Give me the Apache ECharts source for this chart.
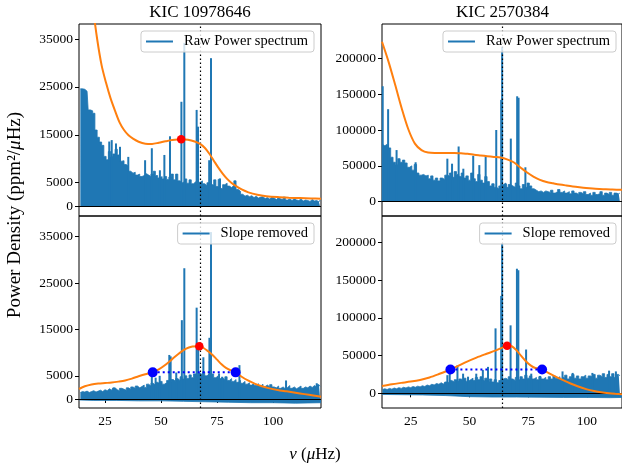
<!DOCTYPE html>
<html><head><meta charset="utf-8">
<script src="https://cdn.jsdelivr.net/npm/echarts@6/dist/echarts.min.js"></script>
<style>html,body{margin:0;padding:0;background:#fff}#c{width:622px;height:472px}</style>
</head><body><div id="c"></div>
<script>
// ---------------- DATA ----------------
const titles = ['KIC 10978646', 'KIC 2570384'];
const legendNames = ['Raw Power spectrum', 'Slope removed'];
const xTicks = [25, 50, 75, 100];
const yTicksL = [0, 5000, 15000, 25000, 35000];
const yTicksR = [0, 50000, 100000, 150000, 200000];
const numaxL = 67.4, numaxR = 63.8;

// frequency grid (muHz) of the spectrum envelopes
const freqL = [14,15,16,17,18,19,20,21,22,23,24,25,26,27,28,29,30,31,32,33,34,35,36,37,38,39,40,41,42,43,44,45,46,47,48,49,50,51,52,53,54,55,56,57,58,59,60,61,62,63,64,65,66,67,68,69,70,71,72,73,74,75,76,77,78,79,80,81,82,83,84,85,86,87,88,89,90,91,92,93,94,95,96,97,98,99,100,101,102,103,104,105,106,107,108,109,110,111,112,113,114,115,116,117,118,119,120,121];
const freqR = [13,14,15,16,17,18,19,20,21,22,23,24,25,26,27,28,29,30,31,32,33,34,35,36,37,38,39,40,41,42,43,44,45,46,47,48,49,50,51,52,53,54,55,56,57,58,59,60,61,62,63,64,65,66,67,68,69,70,71,72,73,74,75,76,77,78,79,80,81,82,83,84,85,86,87,88,89,90,91,92,93,94,95,96,97,98,99,100,101,102,103,104,105,106,107,108,109,110,111,112,113,114];

// KIC 10978646 raw spectrum envelope
const rawL = [24600,24600,24500,24100,20200,20000,19500,16000,14500,13500,
 12800,10500,9800,11500,10500,11000,12000,10800,9500,9600,
 8800,8400,7400,7000,7200,6600,6800,6300,6500,6900,
 6600,6300,6800,7400,6500,6000,6300,5800,6300,5700,
 6200,6800,5600,6800,5400,5000,5200,5800,4900,5600,
 4800,5200,5600,5100,5400,4800,4400,5000,5200,4600,
 5600,4200,5700,3800,4600,4900,4300,4000,4400,5400,
 3600,3200,2600,2200,2400,2100,2300,1900,2200,1800,
 2000,2100,1700,1900,1600,2000,1800,1500,1900,1600,
 1500,2000,1400,1600,1300,1700,1400,1300,1600,1200,
 1400,1300,1100,1500,1200,1300,1000,1400];
const rawPeaksL = [[26.9,13600],[28.0,13900],[29.9,13200],[31.7,12500],[35.4,10400],[42.9,9700],[45.9,12200],[49.5,7600],[51.5,10800],[54.0,14700],[59.1,21900],[60.4,34200],[65.9,20200],[66.5,16700],[71.5,9700],[72.3,31000],[76.3,5900]];
const fitRawL = [[13.4,72000],[15.5,60000],[17.5,50000],[19.5,42000],[21.5,35000],[23.5,29500],[25.5,25800],[27.5,22600],[29.5,20000],[31.5,17600],[33.5,16000],[35.5,14900],[37.5,14200],[40,13550],[43,13150],[46,13100],[49,13350],[52,13650],[55,13900],[59,14060],[62,13950],[65,13600],[67.4,13100],[69.5,12300],[71.5,11100],[73.5,9650],[75.5,8200],[77.5,6900],[79.5,5800],[81.5,4950],[83.5,4300],[86,3600],[89,3000],[93,2500],[97,2200],[102,2000],[107,1880],[112,1800],[117,1720],[121.4,1670]];
const peakRawL = [[59.0,14060]];

// KIC 10978646 slope removed
const slopeL = [1400,1600,1500,1700,1400,1600,1800,1500,1700,1900,
 1600,2000,1800,2200,1900,2400,2000,1800,2300,2100,
 1900,2400,2100,2600,2300,2800,2400,2700,3000,2500,
 3200,2800,3400,3000,3600,3300,3800,3200,3500,4000,
 3600,4200,3800,4400,4000,4800,4300,5000,4400,5200,
 4600,5400,5000,5600,5200,5800,5000,5400,4800,5400,
 4600,5000,4400,4600,4200,4800,4000,4400,3800,4200,
 3600,4000,3400,3800,3200,3500,3000,3400,2900,3300,
 2800,3200,2700,3000,2600,3100,2600,2400,2800,2300,
 2600,2200,2500,2900,2300,2600,2200,2500,2800,2300,
 2600,2400,2800,2500,2900,2600,3100,2700];
const slopePeaksL = [[45.9,5200],[47.6,4600],[49.4,5000],[53.7,9500],[54.3,9200],[56.8,5700],[59.3,17000],[60.4,28200],[65.9,19700],[66.6,11300],[68.9,9000],[71.6,13200],[72.3,36000],[75.9,5500],[77.3,4800],[85.0,7300],[105.8,4000],[119.5,3400]];
const slopeLowL = [[13.4,-200],[20,-300],[30,-300],[40,-400],[50,-400],[60,-500],[70,-600],[80,-700],[90,-800],[100,-800],[110,-900],[121.4,-800]];
const fitSlopeL = [[13.4,2160],[16,2750],[19,3150],[22,3350],[25,3450],[28,3550],[31,3750],[34,4000],[37,4400],[40,4900],[43,5350],[46.3,5750],[49,6400],[52,7400],[55,8600],[58,9800],[61,10800],[64,11300],[67.1,11400],[69,11000],[71,10300],[73,9500],[75,8500],[77,7500],[79,6700],[81,6200],[83.3,5750],[86,4800],[89,3950],[92,3250],[95,2750],[98,2350],[102,1950],[106,1650],[110,1350],[114,1050],[118,750],[121.4,500]];
const peakSlopeL = [[67.1,11400]];
const halfL = [[46.3,5750],[83.3,5750]];

// KIC 2570384 raw spectrum envelope
const rawR = [80000,78000,80000,75000,62000,55000,52000,60000,55000,58000,
 54000,48000,50000,44000,52000,40000,37000,38000,36000,37000,
 32000,36000,30000,33000,29000,33000,31000,37000,36000,40000,
 34000,42000,38000,35000,40000,33000,36000,30000,40000,32000,
 28000,38000,30000,26000,35000,28000,22000,25000,20000,18000,
 22000,24000,26000,20000,24000,22000,20000,26000,22000,18000,
 24000,20000,26000,22000,18000,16000,14000,15000,13000,15000,
 14000,13000,16000,12000,14000,17000,13000,15000,12000,14000,
 11000,15000,12000,10000,13000,11000,14000,10000,12000,9000,
 13000,10000,11000,14000,9000,12000,10000,13000,9000,12000,
 11000,12000];
const rawPeaksR = [[13.1,161000],[15.4,129000],[19.0,72000],[27.1,55000],[40.6,60000],[42.6,53000],[45.4,77000],[47.4,46000],[51.6,64000],[54.2,51000],[56.9,63000],[61.4,100000],[63.5,142000],[63.9,216000],[65.5,25000],[67.6,88000],[70.3,147000],[70.9,145000],[73.8,48000]];
const fitRawR = [[12.8,223000],[15.6,195000],[18.4,163000],[21.2,130000],[24.0,101000],[26.8,81000],[29.6,72000],[32.4,68500],[35.2,68000],[38.0,68000],[40.8,68000],[43.6,68000],[46.4,67500],[49.2,67000],[52.0,65500],[54.8,64500],[57.6,63500],[60.4,62500],[63.2,61500],[66.0,59000],[68.8,55000],[71.6,48000],[74.4,41000],[77.2,35000],[80.0,30500],[82.8,27500],[85.6,25700],[88.4,24000],[91.2,22600],[94.0,21300],[96.8,20200],[99.6,19200],[102.4,18400],[105.2,17800],[108.0,17300],[110.8,17000],[114.9,16600]];

// KIC 2570384 slope removed
const slopeR = [5000,6000,5000,6500,5500,7000,6000,7500,6500,8000,
 7000,8500,7500,9000,8000,9500,8500,10000,9000,11000,
 10000,12000,11000,13000,12000,14000,12000,15000,14000,17000,
 15000,18000,16000,19000,17000,20000,16000,18000,20000,17000,
 21000,18000,22000,17000,20000,16000,19000,15000,18000,14000,
 17000,19000,20000,18000,22000,19000,17000,21000,18000,22000,
 19000,24000,20000,23000,19000,21000,18000,22000,19000,21000,
 18000,22000,19000,23000,20000,22000,18000,21000,24000,19000,
 22000,25000,20000,23000,19000,22000,24000,20000,23000,21000,
 25000,20000,24000,22000,26000,21000,25000,22000,26000,21000,
 25000,23000];
const slopePeaksR = [[40.6,24000],[41.6,31000],[44.9,37000],[47.3,26000],[49.4,22000],[52.9,26000],[55.7,31000],[57.9,35000],[61.1,86000],[63.5,129000],[63.9,199000],[67.5,90000],[70.2,165000],[70.8,163000],[74.1,58000],[76.3,26000],[80.0,23000],[89.6,29000],[93.9,27000],[102.3,27000],[109.4,30000],[112.3,29000]];
const slopeLowR = [[12.8,-1500],[20,-1800],[30,-2200],[40,-3000],[50,-4500],[60,-5000],[70,-5000],[80,-5200],[90,-5500],[100,-5500],[110,-5800],[114.9,-5500]];
const fitSlopeR = [[12.8,9700],[17,12000],[21,13800],[25,15500],[29,17700],[33,21000],[37,25500],[41.9,31500],[45,36000],[49,42000],[53,47300],[57,52000],[61,56500],[64,60500],[66.0,63100],[68,62300],[70,57000],[72,49500],[74,42500],[76,37000],[78,33500],[80.9,31500],[83,28000],[86,23000],[89.6,17700],[93,13000],[96,9300],[100,5200],[103,3000],[106,1300],[109.4,0],[112,-700],[114.9,-1300]];
const peakSlopeR = [[66.0,63100]];
const halfR = [[41.9,31500],[80.9,31500]];

// ---------------- CHART ----------------
const FONT = 'Liberation Serif';
const BLUE = '#1f77b4', ORANGE = '#ff7f0e';
const pairs = (xs, ys) => xs.map((x, i) => [x, ys[i]]);

const panels = [
  {grid:{left:79, top:24, width:242, height:192}, x:[13.4,121.4], y:[-1940,38130], yt:yTicksL, bottom:false, numax:numaxL,
   env:pairs(freqL, rawL), peaks:rawPeaksL, low:null, fit:fitRawL, red:peakRawL, half:null, leg:legendNames[0], legRight:308, legTop:31},
  {grid:{left:382, top:24, width:241, height:192}, x:[12.8,114.9], y:[-19940,247800], yt:yTicksR, bottom:false, numax:numaxR,
   env:pairs(freqR, rawR), peaks:rawPeaksR, low:null, fit:fitRawR, red:null, half:null, leg:legendNames[0], legRight:6, legTop:31},
  {grid:{left:79, top:216, width:242, height:192}, x:[13.4,121.4], y:[-1940,39465], yt:yTicksL, bottom:true, numax:numaxL,
   env:pairs(freqL, slopeL), peaks:slopePeaksL, low:slopeLowL, fit:fitSlopeL, red:peakSlopeL, half:halfL, leg:legendNames[1], legRight:308, legTop:223},
  {grid:{left:382, top:216, width:241, height:192}, x:[12.8,114.9], y:[-19470,234830], yt:yTicksR, bottom:true, numax:numaxR,
   env:pairs(freqR, slopeR), peaks:slopePeaksR, low:slopeLowR, fit:fitSlopeR, red:peakSlopeR, half:halfR, leg:legendNames[1], legRight:6, legTop:223}
];

const grid = [], xAxis = [], yAxis = [], series = [], legend = [];
const tickLabel = {color:'#000', fontFamily:FONT, fontSize:13.5, formatter:(v) => String(Math.round(v))};
panels.forEach((p, i) => {
  grid.push(Object.assign({show:true, borderColor:'#000', borderWidth:1, backgroundColor:'transparent'}, p.grid));
  xAxis.push({type:'value', gridIndex:i, min:p.x[0], max:p.x[1],
    axisLine:{show:false}, splitLine:{show:false},
    axisTick:{show:p.bottom, length:4, lineStyle:{color:'#000'}, customValues:xTicks},
    axisLabel:Object.assign({show:p.bottom, margin:6, customValues:xTicks}, tickLabel)});
  yAxis.push({type:'value', gridIndex:i, min:p.y[0], max:p.y[1],
    axisLine:{show:false}, splitLine:{show:false},
    axisTick:{show:true, length:4, lineStyle:{color:'#000'}, customValues:p.yt},
    axisLabel:Object.assign({show:true, margin:6, customValues:p.yt}, tickLabel)});
  series.push({type:'line', name:p.leg, xAxisIndex:i, yAxisIndex:i, data:p.env, step:'middle',
    symbol:'none', lineStyle:{width:0.8, color:BLUE}, itemStyle:{color:BLUE},
    areaStyle:{color:BLUE, opacity:1}, z:2, silent:true});
  series.push({type:'bar', xAxisIndex:i, yAxisIndex:i, data:p.peaks, barWidth:2,
    itemStyle:{color:BLUE}, z:2, silent:true});
  if (p.low) series.push({type:'line', xAxisIndex:i, yAxisIndex:i, data:p.low, symbol:'none',
    lineStyle:{width:0.8, color:BLUE}, areaStyle:{color:BLUE, opacity:1}, z:2, silent:true});
  series.push({type:'line', xAxisIndex:i, yAxisIndex:i, data:p.fit, smooth:0.3,
    symbol:'none', lineStyle:{width:2, color:ORANGE}, z:5, silent:true, clip:true,
    markLine:{silent:true, symbol:['none','none'], label:{show:false}, animation:false,
      data:[
        {yAxis:0, lineStyle:{color:'#000', width:1.2, type:'solid'}},
        {xAxis:p.numax, lineStyle:{color:'#000', width:1.2, type:[1.5,2.5]}}
      ]}});
  if (p.half) {
    series.push({type:'line', xAxisIndex:i, yAxisIndex:i, data:p.half, symbol:'none',
      lineStyle:{width:2, color:'#0000ff', type:[2,3]}, z:6, silent:true});
    series.push({type:'scatter', xAxisIndex:i, yAxisIndex:i, data:p.half, symbolSize:10,
      itemStyle:{color:'#0000ff', opacity:1}, z:7, silent:true});
  }
  if (p.red) series.push({type:'scatter', xAxisIndex:i, yAxisIndex:i, data:p.red, symbolSize:8.5,
    itemStyle:{color:'#ff0000', opacity:1}, z:8, silent:true});
  legend.push({data:[{name:p.leg, icon:'rect'}], right:p.legRight, top:p.legTop, selectedMode:false,
    itemWidth:27, itemHeight:2, itemStyle:{color:BLUE},
    textStyle:{color:'#000', fontFamily:FONT, fontSize:14.5, padding:[0,0,0,6]},
    backgroundColor:'rgba(255,255,255,0.8)', borderColor:'#cccccc', borderWidth:1, borderRadius:3,
    padding:[3,6,3,5], z:20});
});

const chart = echarts.init(document.getElementById('c'), null, {renderer:'canvas'});
chart.setOption({
  animation:false,
  backgroundColor:'#fff',
  grid, xAxis, yAxis, series, legend,
  graphic:[
    {type:'text', x:200, y:13, z:30, style:{text:titles[0], fontFamily:FONT, fontSize:17, fill:'#000', align:'center', verticalAlign:'middle', textAlign:'center', textVerticalAlign:'middle'}},
    {type:'text', x:502.5, y:13, z:30, style:{text:titles[1], fontFamily:FONT, fontSize:17, fill:'#000', align:'center', verticalAlign:'middle', textAlign:'center', textVerticalAlign:'middle'}},
    {type:'text', x:315, y:455, z:30, style:{text:'{i|ν} ({i|μ}Hz)', fontFamily:FONT, fontSize:17, fill:'#000', align:'center', verticalAlign:'middle', textAlign:'center', textVerticalAlign:'middle',
      rich:{i:{fontStyle:'italic', fontFamily:FONT, fontSize:17}}}},
    {type:'text', x:15, y:215, rotation:Math.PI/2, z:30, style:{text:'Power Density (ppm²/{i|μ}Hz)', fontFamily:FONT, fontSize:19, fill:'#000', align:'center', verticalAlign:'middle', textAlign:'center', textVerticalAlign:'middle',
      rich:{i:{fontStyle:'italic', fontFamily:FONT, fontSize:19}}}}
  ]
});
</script>
</body></html>
